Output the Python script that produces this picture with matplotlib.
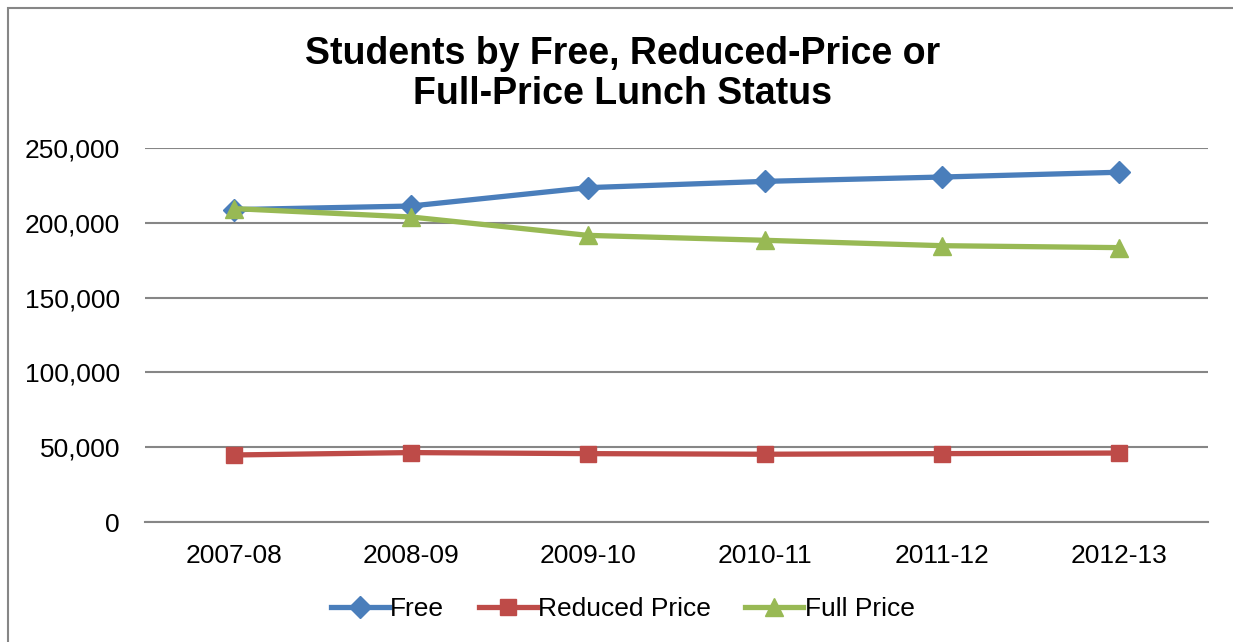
import matplotlib
matplotlib.use('Agg')
import matplotlib.pyplot as plt
from matplotlib.patches import Rectangle
from matplotlib.ticker import FuncFormatter

plt.rcParams['font.family'] = ['Liberation Sans', 'DejaVu Sans']

years = ["2007-08", "2008-09", "2009-10", "2010-11", "2011-12", "2012-13"]
free = [208800, 211200, 223500, 227700, 230600, 233800]
reduced = [44800, 46400, 45700, 45300, 45700, 46100]
full = [209500, 203900, 191600, 188300, 184700, 183400]
yticks = [0, 50000, 100000, 150000, 200000, 250000]

fig = plt.figure(figsize=(12.33, 6.42), dpi=100)
ax = fig.add_axes([145/1233, 1 - 522/642, (1208 - 145)/1233, (522 - 148)/642])

x = range(len(years))
ax.plot(x, free, color='#4A7EBB', lw=3.8, marker='D', ms=11, label='Free', zorder=3)
ax.plot(x, reduced, color='#BE4B48', lw=3.8, marker='s', ms=12, label='Reduced Price', zorder=3)
ax.plot(x, full, color='#98B954', lw=3.8, marker='^', ms=13, label='Full Price', zorder=3)

ax.set_xlim(-0.5, len(years) - 0.5)
ax.set_ylim(0, 250000)
ax.set_yticks(yticks)
ax.yaxis.set_major_formatter(FuncFormatter(lambda v, p: f"{int(v):,}"))
ax.set_xticks(list(x))
ax.set_xticklabels(years)
ax.tick_params(axis='both', length=0, labelsize=19)
ax.tick_params(axis='y', pad=18)
ax.tick_params(axis='x', pad=16)
ax.grid(axis='y', color='#868686', lw=1.5)
ax.set_axisbelow(True)
for s in ['top', 'right', 'left']:
    ax.spines[s].set_visible(False)
ax.spines['bottom'].set_color('#868686')
ax.spines['bottom'].set_linewidth(1.5)

fig.text(0.505, 1 - 74/642, "Students by Free, Reduced-Price or\nFull-Price Lunch Status",
         ha='center', va='center', fontsize=27, fontweight='bold', linespacing=1.15)

fig.legend(loc='center', bbox_to_anchor=(0.505, 1 - 609/642), ncol=3, frameon=False,
           fontsize=19, handlelength=2.2, handletextpad=0.05, columnspacing=1.3,
           numpoints=1)

fig.patches.append(Rectangle((8/1233, -0.1), 1.2, 1.1 - 8/642, transform=fig.transFigure,
                             fill=False, edgecolor='#868686', lw=1.5))

fig.savefig("out.png", dpi=100)
